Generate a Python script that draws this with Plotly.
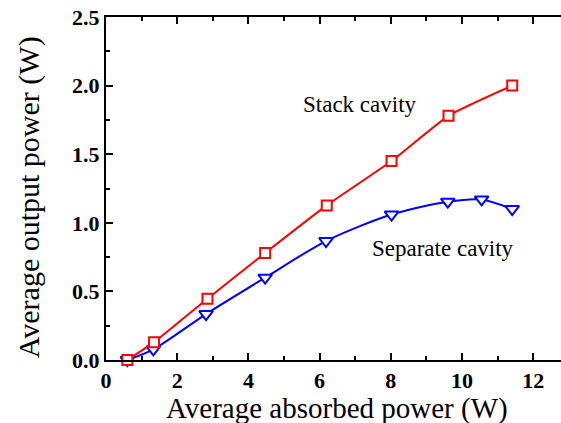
import plotly.graph_objects as go

stack_x = [0.6, 1.35, 2.85, 4.47, 6.2, 8.02, 9.62, 11.41]
stack_y = [0.0, 0.13, 0.447, 0.78, 1.127, 1.45, 1.78, 2.0]

sep_x = [0.6, 1.33, 2.81, 4.47, 6.18, 8.02, 9.6, 10.55, 11.41]
sep_y = [0.0, 0.078, 0.335, 0.60, 0.867, 1.06, 1.154, 1.17, 1.10]

x_title = "Average absorbed power (W)"
y_title = "Average output power (W)"
labels = ["Stack cavity", "Separate cavity"]

SERIF = "Liberation Serif, Times New Roman, serif"

fig = go.Figure()
fig.add_trace(go.Scatter(
    x=sep_x, y=sep_y, mode="lines+markers",
    line=dict(color="#0000ff", width=2, shape="spline", smoothing=0.8),
    marker=dict(symbol="triangle-down", size=12, color="white",
                line=dict(color="#0000ff", width=2)),
    cliponaxis=False, showlegend=False))
fig.add_trace(go.Scatter(
    x=stack_x, y=stack_y, mode="lines+markers",
    line=dict(color="#ff0000", width=2, shape="spline", smoothing=0.5),
    marker=dict(symbol="square", size=10, color="white",
                line=dict(color="#ff0000", width=2)),
    cliponaxis=False, showlegend=False))

fig.add_annotation(x=7.13, y=1.86, text=labels[0], showarrow=False,
                   font=dict(family=SERIF, size=23, color="black"))
fig.add_annotation(x=9.47, y=0.816, text=labels[1], showarrow=False,
                   font=dict(family=SERIF, size=23, color="black"))

# axis titles placed as paper annotations for precise positioning
fig.add_annotation(xref="paper", yref="paper", x=0.508, y=-0.14,
                   text=x_title, showarrow=False, xanchor="center", yanchor="middle",
                   font=dict(family=SERIF, size=29, color="black"))
fig.add_annotation(xref="paper", yref="paper", x=-0.169, y=0.475,
                   text=y_title, showarrow=False, textangle=-90,
                   xanchor="center", yanchor="middle",
                   font=dict(family=SERIF, size=30, color="black"))

axis_common = dict(
    showgrid=False, zeroline=False, showline=True, linecolor="black", linewidth=2,
    ticks="inside", ticklen=7, tickwidth=1.5, tickcolor="black",
    tickfont=dict(family=SERIF, size=22, color="black", weight="bold"),
)

fig.update_xaxes(
    range=[0, 12.78], dtick=2, tick0=0, mirror="ticks", ticklabelstandoff=0,
    minor=dict(dtick=1, ticks="inside", ticklen=4, tickwidth=1.5, tickcolor="black"),
    **axis_common)
fig.update_yaxes(
    range=[0, 2.5], dtick=0.5, tick0=0, tickformat=".1f", mirror=False,
    minor=dict(dtick=0.25, ticks="inside", ticklen=4, tickwidth=1.5, tickcolor="black"),
    **axis_common)

fig.update_layout(
    width=561, height=423,
    margin=dict(l=106, r=0, t=17, b=63),
    paper_bgcolor="white", plot_bgcolor="white",
    font=dict(family=SERIF),
)

fig.write_html("out.html")
